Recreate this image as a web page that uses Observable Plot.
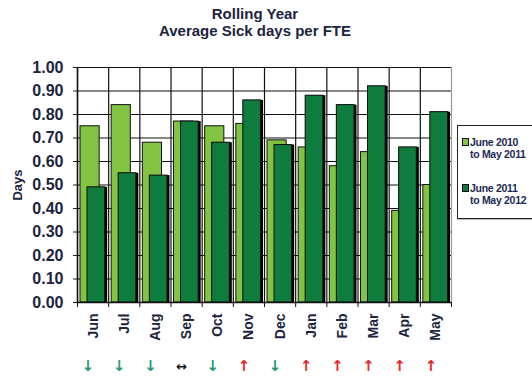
<!DOCTYPE html>
<html>
<head>
<meta charset="utf-8">
<script src="https://cdn.jsdelivr.net/npm/d3@7"></script>
<script src="https://cdn.jsdelivr.net/npm/@observablehq/plot@0.6"></script>
<style>
  html, body { margin: 0; padding: 0; background: #fff; overflow: hidden; }
  #wrap { position: relative; width: 532px; height: 379px; font-family: "Liberation Sans", Arial, sans-serif; }
  #title { position: absolute; left: 0; top: 5px; width: 510px; text-align: center; font-weight: bold; font-size: 15px; line-height: 17px; color: #1c2440; }
  #legend { position: absolute; left: 457px; top: 125px; width: 86px; height: 92px; border: 1.5px solid #222; background: #fff; box-shadow: 1px 1px 0 #bbb; }
  .item { position: absolute; left: 4px; font-size: 10.5px; font-weight: bold; line-height: 12px; color: #1c2a55; letter-spacing: -0.3px; }
  .sw { display: inline-block; width: 5px; height: 6px; border: 1px solid #111; margin-right: 1px; vertical-align: 0px; }
  #chart { position: absolute; left: 0; top: 0; }
</style>
</head>
<body>
<div id="wrap">
  <div id="chart"></div>
  <div id="title"></div>
  <div id="legend"></div>
</div>
<script>
const titleLines = ["Rolling Year", "Average Sick days per FTE"];
const months = ["Jun","Jul","Aug","Sep","Oct","Nov","Dec","Jan","Feb","Mar","Apr","May"];
const series = ["June 2010\nto May 2011", "June 2011\nto May 2012"];
const year1 = [0.75,0.84,0.68,0.77,0.75,0.76,0.69,0.66,0.58,0.64,0.39,0.50];
const year2 = [0.49,0.55,0.54,0.77,0.68,0.86,0.67,0.88,0.84,0.92,0.66,0.81];
const trend = ["down","down","down","same","down","up","down","up","up","up","up","up"];
const yTicks = [0,0.1,0.2,0.3,0.4,0.5,0.6,0.7,0.8,0.9,1.0];
const yLabel = "Days";

const lightGreen = "#82c341";
const darkGreen = "#0e7c3c";

const rows = months.map((m, i) => ({i, month: m, v1: year1[i], v2: year2[i], trend: trend[i]}));

document.getElementById("title").innerHTML = titleLines.join("<br>");

const legend = document.getElementById("legend");
[lightGreen, darkGreen].forEach((c, k) => {
  const div = document.createElement("div");
  div.className = "item";
  div.style.top = (k === 0 ? 10 : 56) + "px";
  const [a, b] = series[k].split("\n");
  div.innerHTML = `<span class="sw" style="background:${c}"></span>${a}<br><span style="padding-left:8px">${b}</span>`;
  legend.appendChild(div);
});

const bandCenters = d3.range(months.length).map(i => i + 0.5);
const arrowText = {down: "↓", up: "↑", same: "↔"};
const arrowColor = {down: "#2a9a7c", up: "#e8262a", same: "#111"};

const chart = Plot.plot({
  width: 532,
  height: 379,
  marginLeft: 77,
  marginRight: 81,
  marginTop: 67,
  marginBottom: 77,
  style: {fontFamily: "Liberation Sans, Arial, sans-serif", color: "#1c2440", background: "transparent"},
  x: {type: "linear", domain: [0, 12]},
  y: {domain: [0, 1]},
  marks: [
    Plot.ruleY(yTicks, {stroke: "#111", strokeWidth: 1.2}),
    Plot.ruleX(d3.range(0, 12), {stroke: "#111", strokeWidth: 1.2}),
    Plot.ruleX([12], {stroke: "#999", strokeWidth: 1.2}),
    Plot.rectY(rows, {x1: d => d.i, x2: d => d.i + 1, y: "v1", insetLeft: 3, insetRight: 9, fill: lightGreen, stroke: "#111", strokeWidth: 1}),
    Plot.rectY(rows, {x1: d => d.i, x2: d => d.i + 1, y: "v2", insetLeft: 10, insetRight: 1, fill: "#000"}),
    Plot.rectY(rows, {x1: d => d.i, x2: d => d.i + 1, y: "v2", insetLeft: 10, insetRight: 3.5, fill: darkGreen, stroke: "#111", strokeWidth: 1}),
    Plot.axisY({ticks: yTicks, tickFormat: d3.format(".2f"), tickSize: 4, tickPadding: 10, fontSize: 16, fontWeight: "bold",
      label: yLabel, labelAnchor: "center", labelArrow: "none", labelOffset: 65}),
    Plot.ruleX([0], {stroke: "#111", strokeWidth: 1.5}),
    Plot.axisX({ticks: d3.range(0, 13), tickFormat: () => "", tickSize: 5, stroke: "#111"}),
    Plot.axisX({ticks: bandCenters, tickFormat: t => months[Math.round(t - 0.5)], tickSize: 0, tickPadding: 11, tickRotate: -90, fontSize: 14, fontWeight: "bold", label: null}),
    Plot.ruleY([0], {stroke: "#111", strokeWidth: 1.5}),
    ...["down", "up", "same"].map(t => Plot.text(rows.filter(d => d.trend === t), {
      x: d => d.i + 0.5, text: d => arrowText[d.trend], frameAnchor: "bottom", dy: 68, dx: -5,
      fill: arrowColor[t], fontSize: t === "same" ? 13 : 15, fontWeight: "bold", fontFamily: "DejaVu Sans"
    }))
  ]
});
chart.querySelectorAll("g[aria-label='y-axis label'] text").forEach(el => { el.setAttribute("font-weight", "bold"); el.setAttribute("font-size", "13"); });
document.getElementById("chart").appendChild(chart);
</script>
</body>
</html>
